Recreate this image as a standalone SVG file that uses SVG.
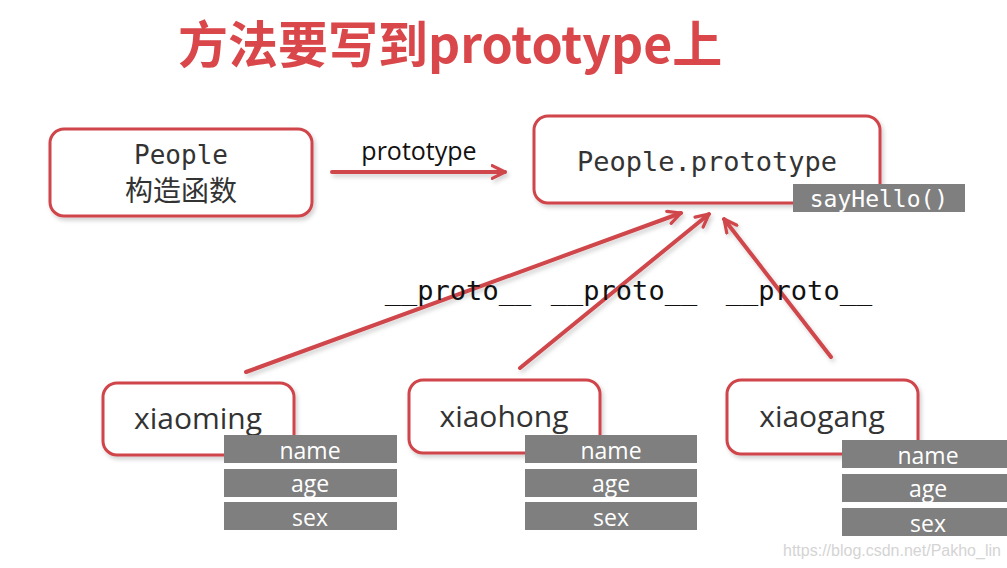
<svg xmlns="http://www.w3.org/2000/svg" width="1007" height="568" viewBox="0 0 1007 568">
<defs>
<filter id="sh" x="-10%" y="-10%" width="130%" height="140%">
<feDropShadow dx="2" dy="3" stdDeviation="2" flood-color="#000" flood-opacity="0.18"/>
</filter>
<filter id="lsh" filterUnits="userSpaceOnUse" x="0" y="0" width="1007" height="568">
<feDropShadow dx="2" dy="3" stdDeviation="2" flood-color="#000" flood-opacity="0.18"/>
</filter>
<marker id="ah" viewBox="0 0 10 10" refX="9" refY="5" markerWidth="4" markerHeight="4" orient="auto" markerUnits="strokeWidth">
<path d="M1,1 L9,5 L1,9" fill="none" stroke="#d0464b" stroke-width="2" stroke-linecap="round" stroke-linejoin="round"/>
</marker>
<style>
.box{fill:#fff;stroke:#cf454a;stroke-width:3;filter:url(#sh)}
.mono{font-family:"DejaVu Sans Mono","Liberation Mono",monospace;fill:#333}
.sans{font-family:"Open Sans","Noto Sans",sans-serif;fill:#333}
.cell{fill:#7f7f7f}
.ct{font-family:"Open Sans","Noto Sans",sans-serif;fill:#fff;font-size:23px;text-anchor:middle}
.conn{stroke:#d0464b;stroke-width:4;fill:none;stroke-linecap:round;marker-end:url(#ah)}
.lbl{fill:#111}
</style>
</defs>
<rect width="1007" height="568" fill="#fff"/>
<text x="178" y="63" font-family="'Noto Sans CJK SC','Noto Sans',sans-serif" font-weight="bold" font-size="50" fill="#d9474b">方法要写到prototype上</text>

<g id="connectors" filter="url(#lsh)">
<line class="conn" x1="332" y1="172" x2="505" y2="172"/>
<line class="conn" x1="246" y1="372" x2="681" y2="213"/>
<line class="conn" x1="520" y1="368" x2="709" y2="214"/>
<line class="conn" x1="831" y1="357" x2="724" y2="219"/>
</g>
<g id="labels">
<text x="419" y="160" font-family="'Open Sans','Noto Sans',sans-serif" font-size="25" text-anchor="middle" class="lbl">prototype</text>
<text x="458" y="300" class="mono lbl" font-size="27" text-anchor="middle" style="fill:#111">__proto__</text>
<text x="624" y="300" class="mono lbl" font-size="27" text-anchor="middle" style="fill:#111">__proto__</text>
<text x="799" y="300" class="mono lbl" font-size="27" text-anchor="middle" style="fill:#111">__proto__</text>
</g>

<g id="people">
<rect class="box" x="50" y="129" width="262" height="87" rx="14"/>
<text x="181" y="164" class="mono" font-size="26" text-anchor="middle">People</text>
<text x="181" y="201" font-family="'Noto Sans CJK SC',sans-serif" font-size="28" fill="#333" text-anchor="middle">构造函数</text>
</g>

<g id="people-prototype">
<rect class="box" x="534" y="116" width="346" height="87" rx="14"/>
<text x="707" y="171" class="mono" font-size="27" text-anchor="middle">People.prototype</text>
<rect class="cell" x="793" y="184" width="172" height="28"/>
<text x="879" y="207" font-family="'DejaVu Sans Mono',monospace" font-size="23" fill="#fff" text-anchor="middle">sayHello()</text>
</g>

<g id="xiaoming">
<rect class="box" x="103" y="383" width="191" height="72" rx="14"/>
<text x="198" y="429" class="sans" font-size="30" text-anchor="middle">xiaoming</text>
<rect class="cell" x="224" y="435" width="173" height="28"/>
<text x="310" y="459" class="ct">name</text>
<rect class="cell" x="224" y="469" width="173" height="28"/>
<text x="310" y="492" class="ct">age</text>
<rect class="cell" x="224" y="502" width="173" height="28"/>
<text x="310" y="526" class="ct">sex</text>
</g>

<g id="xiaohong">
<rect class="box" x="409" y="380" width="191" height="73" rx="14"/>
<text x="504" y="427" class="sans" font-size="30" text-anchor="middle">xiaohong</text>
<rect class="cell" x="525" y="435" width="172" height="28"/>
<text x="611" y="459" class="ct">name</text>
<rect class="cell" x="525" y="469" width="172" height="28"/>
<text x="611" y="492" class="ct">age</text>
<rect class="cell" x="525" y="502" width="172" height="28"/>
<text x="611" y="526" class="ct">sex</text>
</g>

<g id="xiaogang">
<rect class="box" x="727" y="380" width="191" height="74" rx="14"/>
<text x="822" y="427" class="sans" font-size="30" text-anchor="middle">xiaogang</text>
<rect class="cell" x="842" y="440" width="165" height="28"/>
<text x="928" y="464" class="ct">name</text>
<rect class="cell" x="842" y="474" width="165" height="28"/>
<text x="928" y="497" class="ct">age</text>
<rect class="cell" x="842" y="508" width="165" height="28"/>
<text x="928" y="532" class="ct">sex</text>
</g>

<text x="783" y="556" font-family="'Liberation Sans',Arial,sans-serif" font-size="16" fill="#d4d4d4">https://blog.csdn.net/Pakho_lin</text>
</svg>
